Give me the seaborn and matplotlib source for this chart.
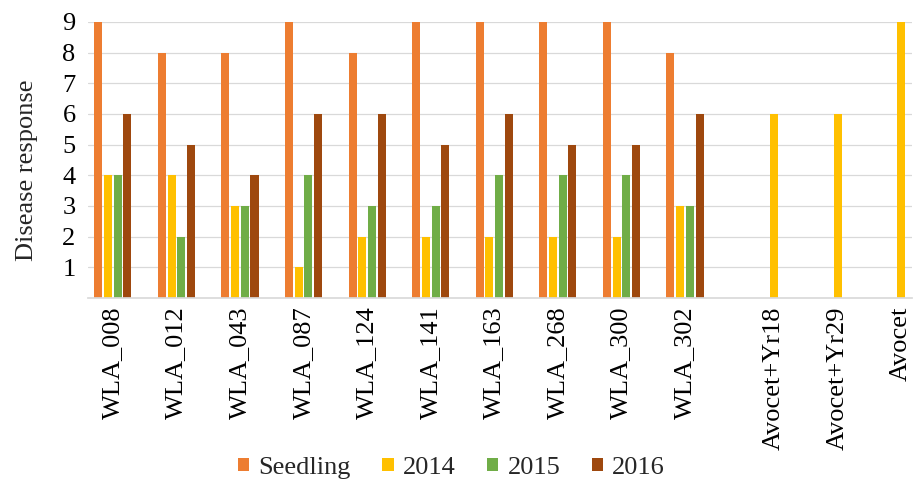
import pandas as pd
import seaborn as sns
import matplotlib.pyplot as plt

sns.set_theme(style="white")
plt.rcParams['font.family'] = ['Liberation Serif', 'DejaVu Serif']

# lines and scores
lines = ['WLA_008', 'WLA_012', 'WLA_043', 'WLA_087', 'WLA_124',
         'WLA_141', 'WLA_163', 'WLA_268', 'WLA_300', 'WLA_302']
seedling = [9, 8, 8, 9, 8, 9, 9, 9, 9, 8]
y2014 = [4, 4, 3, 1, 2, 2, 2, 2, 2, 3]
y2015 = [4, 2, 3, 4, 3, 3, 4, 4, 4, 3]
y2016 = [6, 5, 4, 6, 6, 5, 6, 5, 5, 6]

checks = ['Avocet+Yr18', 'Avocet+Yr29', 'Avocet']
checks_2014 = [6, 6, 9]

series = ['Seedling', '2014', '2015', '2016']
colors = ['#ED7D31', '#FFC000', '#70AD47', '#9E480E']

# x positions: the checks sit a bit further apart from the lines
line_pos = list(range(len(lines)))
check_pos = [10.4, 11.4, 12.4]

rows = []
for name, vals in zip(series, [seedling, y2014, y2015, y2016]):
    for p, v in zip(line_pos, vals):
        rows.append({'pos': p, 'series': name, 'score': v})
df = pd.DataFrame(rows)
df_checks = pd.DataFrame({'pos': check_pos, 'score': checks_2014})

fig, ax = plt.subplots(figsize=(9.14, 4.8), dpi=100)
fig.subplots_adjust(left=88 / 914, right=912 / 914, top=1 - 22 / 480, bottom=1 - 298 / 480)

sns.barplot(data=df, x='pos', y='score', hue='series', hue_order=series,
            palette=colors, saturation=1, native_scale=True, width=0.61, gap=0.17,
            linewidth=0, errorbar=None, orient='x', ax=ax)
sns.barplot(data=df_checks, x='pos', y='score', color=colors[1], saturation=1,
            native_scale=True, width=0.127, linewidth=0, errorbar=None,
            orient='x', ax=ax)

ax.set_ylim(0, 9)
ax.set_xlim(-0.39, 12.57)
ax.set_yticks(range(1, 10))
ax.set_xticks(line_pos + check_pos)
ax.set_xticklabels(lines + checks, rotation=90)
ax.tick_params(axis='both', length=0, labelsize=19, colors='black')
ax.tick_params(axis='x', pad=6)
ax.tick_params(axis='y', pad=9)
ax.yaxis.grid(True, color='#D9D9D9', linewidth=0.9)
ax.set_axisbelow(True)
for s in ['top', 'right', 'left']:
    ax.spines[s].set_visible(False)
ax.spines['bottom'].set_color('#D9D9D9')
ax.set_xlabel('')
ax.set_ylabel('Disease response', fontsize=19)
ax.yaxis.set_label_coords(-0.061, 0.464)

handles, labels = ax.get_legend_handles_labels()
ax.legend(handles[:4], labels[:4], loc='center', bbox_to_anchor=(0.494, 0.025),
          bbox_transform=fig.transFigure, ncol=4, frameon=False, fontsize=19,
          handlelength=0.42, handleheight=0.42, handletextpad=0.35,
          columnspacing=1.2)

plt.savefig('out.png', dpi=100)
